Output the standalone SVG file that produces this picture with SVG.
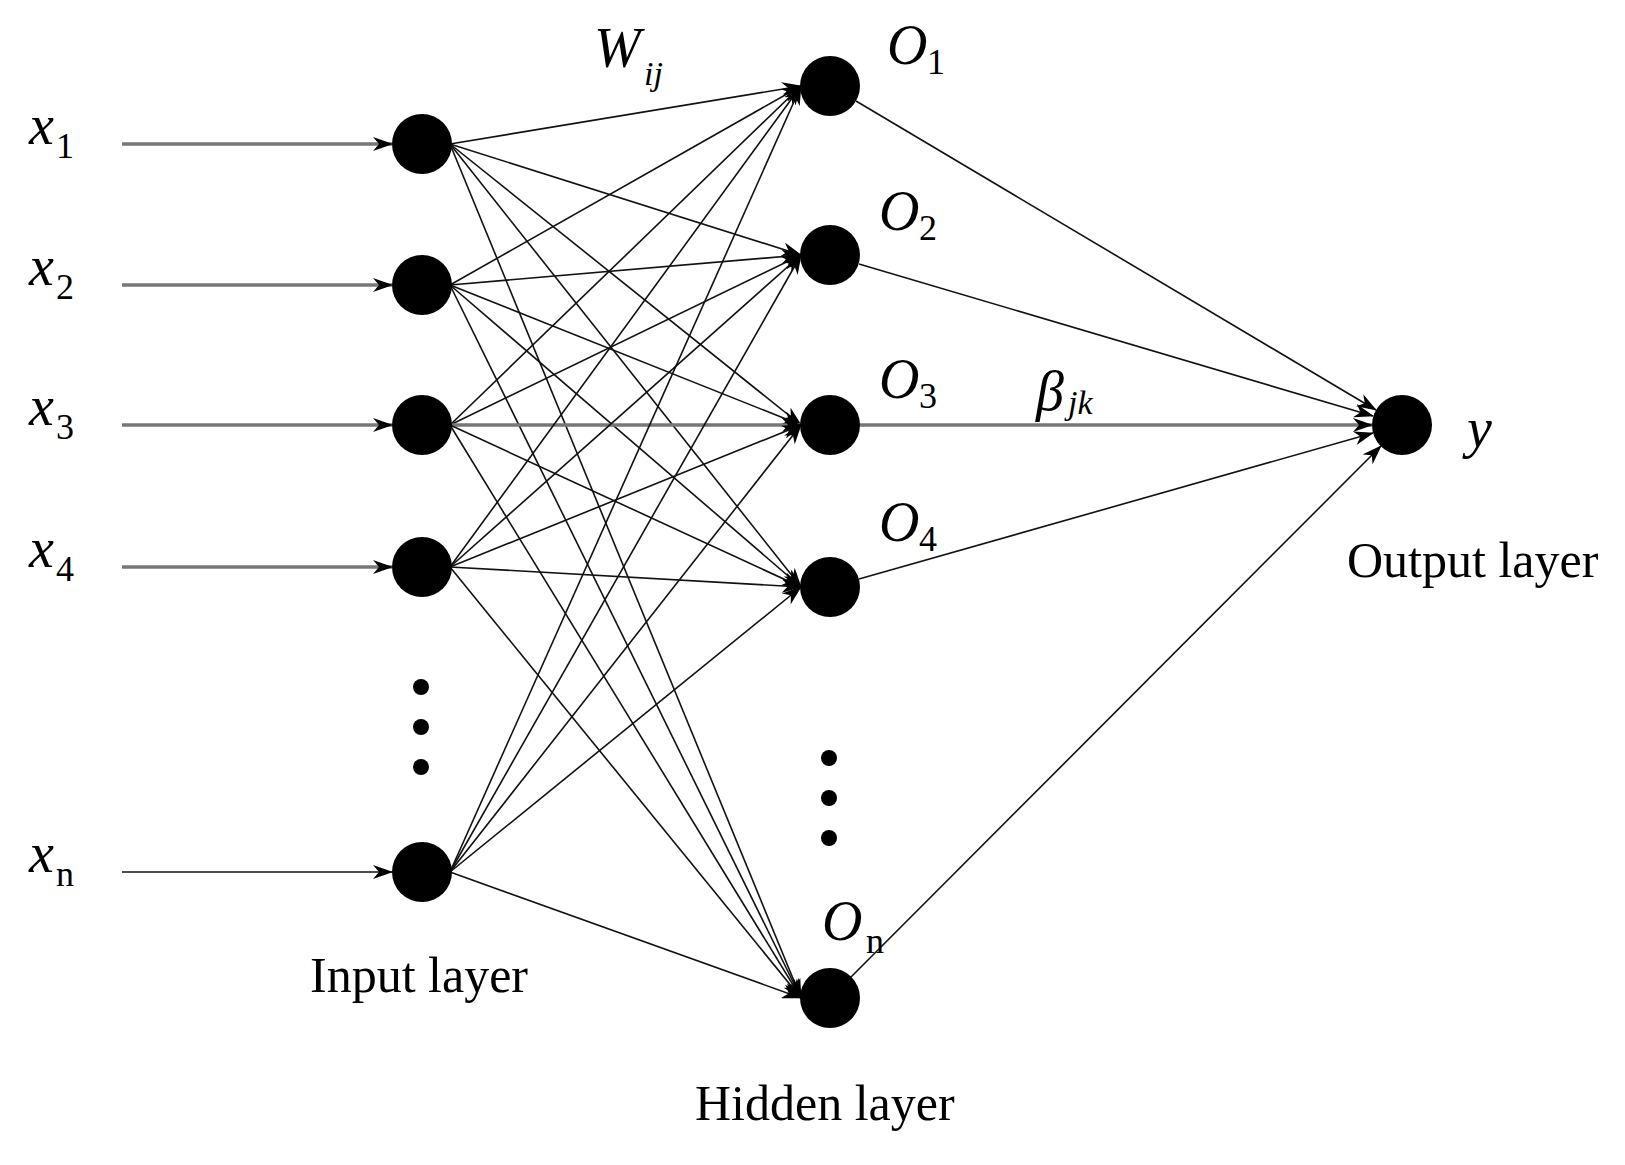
<svg xmlns="http://www.w3.org/2000/svg" width="1625" height="1165" viewBox="0 0 1625 1165">
<defs>
<style>
.n{fill:#000}
.e{stroke:#111;stroke-width:1.6;fill:none;marker-end:url(#a)}
.g{stroke:#777;stroke-width:3.5;fill:none;marker-end:url(#a)}
.v{font-family:"Liberation Serif",serif;font-style:italic;font-size:56px;fill:#000}
.s{font-family:"Liberation Serif",serif;font-size:36px;fill:#000}
.si{font-family:"Liberation Serif",serif;font-style:italic;font-size:34px;fill:#000}
.l{font-family:"Liberation Serif",serif;font-size:50px;fill:#000}
</style>
<marker id="a" viewBox="0 0 20 14" refX="19" refY="7" markerWidth="20" markerHeight="14" markerUnits="userSpaceOnUse" orient="auto">
<path d="M0,0 L20,7 L0,14 L6,7 z" fill="#000"/>
</marker>
</defs>
<rect width="1625" height="1165" fill="#fff"/>
<g id="connectors">
<line class="g" x1="122" y1="144" x2="392" y2="144"/>
<line class="g" x1="122" y1="285" x2="392" y2="285"/>
<line class="g" x1="122" y1="425" x2="392" y2="425"/>
<line class="g" x1="122" y1="567" x2="392" y2="567"/>
<line class="e" x1="122" y1="872" x2="392" y2="872"/>
<line class="e" x1="450" y1="144" x2="801" y2="86"/>
<line class="e" x1="450" y1="144" x2="801" y2="255"/>
<line class="e" x1="450" y1="144" x2="801" y2="425"/>
<line class="e" x1="450" y1="144" x2="801" y2="587"/>
<line class="e" x1="450" y1="144" x2="801" y2="998"/>
<line class="e" x1="450" y1="285" x2="801" y2="86"/>
<line class="e" x1="450" y1="285" x2="801" y2="255"/>
<line class="e" x1="450" y1="285" x2="801" y2="425"/>
<line class="e" x1="450" y1="285" x2="801" y2="587"/>
<line class="e" x1="450" y1="285" x2="801" y2="998"/>
<line class="e" x1="450" y1="425" x2="801" y2="86"/>
<line class="e" x1="450" y1="425" x2="801" y2="255"/>
<line class="g" x1="450" y1="425" x2="801" y2="425"/>
<line class="e" x1="450" y1="425" x2="801" y2="587"/>
<line class="e" x1="450" y1="425" x2="801" y2="998"/>
<line class="e" x1="450" y1="567" x2="801" y2="86"/>
<line class="e" x1="450" y1="567" x2="801" y2="255"/>
<line class="e" x1="450" y1="567" x2="801" y2="425"/>
<line class="e" x1="450" y1="567" x2="801" y2="587"/>
<line class="e" x1="450" y1="567" x2="801" y2="998"/>
<line class="e" x1="450" y1="872" x2="801" y2="86"/>
<line class="e" x1="450" y1="872" x2="801" y2="255"/>
<line class="e" x1="450" y1="872" x2="801" y2="425"/>
<line class="e" x1="450" y1="872" x2="801" y2="587"/>
<line class="e" x1="450" y1="872" x2="801" y2="998"/>
<line class="e" x1="856" y1="101" x2="1376" y2="410"/>
<line class="e" x1="859" y1="264" x2="1373" y2="416"/>
<line class="g" x1="860" y1="425" x2="1372" y2="425"/>
<line class="e" x1="859" y1="579" x2="1373" y2="433"/>
<line class="e" x1="851" y1="977" x2="1381" y2="446"/>
</g>
<g id="in1"><circle class="n" cx="422" cy="144" r="30"/><text class="v" x="29" y="144">x</text><text class="s" x="56" y="158">1</text></g>
<g id="in2"><circle class="n" cx="422" cy="285" r="30"/><text class="v" x="29" y="285">x</text><text class="s" x="56" y="299">2</text></g>
<g id="in3"><circle class="n" cx="422" cy="425" r="30"/><text class="v" x="29" y="425">x</text><text class="s" x="56" y="439">3</text></g>
<g id="in4"><circle class="n" cx="422" cy="567" r="30"/><text class="v" x="29" y="567">x</text><text class="s" x="56" y="581">4</text></g>
<g id="inn"><circle class="n" cx="422" cy="872" r="30"/><text class="v" x="29" y="872">x</text><text class="s" x="56" y="886">n</text></g>
<g id="indots"><circle class="n" cx="421" cy="687" r="8"/><circle class="n" cx="421" cy="727" r="8"/><circle class="n" cx="421" cy="767" r="8"/></g>
<g id="h1"><circle class="n" cx="830" cy="86" r="30"/><text class="v" x="887" y="64">O</text><text class="s" x="927" y="74">1</text></g>
<g id="h2"><circle class="n" cx="830" cy="255" r="30"/><text class="v" x="879" y="230">O</text><text class="s" x="919" y="240">2</text></g>
<g id="h3"><circle class="n" cx="830" cy="425" r="30"/><text class="v" x="879" y="398">O</text><text class="s" x="919" y="408">3</text></g>
<g id="h4"><circle class="n" cx="830" cy="587" r="30"/><text class="v" x="879" y="541">O</text><text class="s" x="919" y="551">4</text></g>
<g id="hn"><circle class="n" cx="830" cy="998" r="30"/><text class="v" x="822" y="940">O</text><text class="s" x="866" y="953">n</text></g>
<g id="hdots"><circle class="n" cx="829" cy="758" r="8"/><circle class="n" cx="829" cy="798" r="8"/><circle class="n" cx="829" cy="838" r="8"/></g>
<g id="out"><circle class="n" cx="1402" cy="425" r="30"/><text class="v" x="1467" y="447">y</text></g>
<g id="weights"><text class="v" x="594" y="67">W</text><text class="si" x="644" y="85">ij</text>
<text class="v" x="1036" y="410">β</text><text class="si" x="1068" y="414">jk</text></g>
<g id="labels"><text class="l" x="310" y="992">Input layer</text><text class="l" x="695" y="1120">Hidden layer</text><text class="l" x="1347" y="577">Output layer</text></g>
</svg>
